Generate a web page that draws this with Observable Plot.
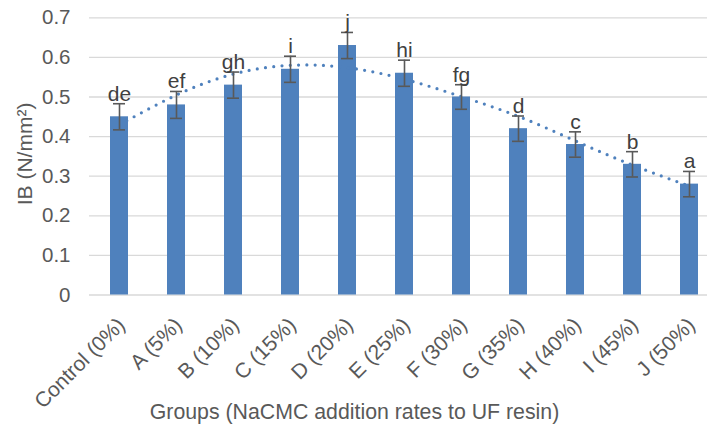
<!DOCTYPE html>
<html>
<head>
<meta charset="utf-8">
<script src="https://cdn.jsdelivr.net/npm/d3@7"></script>
<script src="https://cdn.jsdelivr.net/npm/@observablehq/plot@0.6"></script>
<style>
  html, body { margin: 0; padding: 0; background: #fff; }
  #chart svg { display: block; }
</style>
</head>
<body>
<div id="chart"></div>
<script>
// ---- data ----
const groups = ["Control (0%)", "A (5%)", "B (10%)", "C (15%)", "D (20%)", "E (25%)",
                "F (30%)", "G (35%)", "H (40%)", "I (45%)", "J (50%)"];
const ib = [0.45, 0.48, 0.53, 0.57, 0.63, 0.56, 0.50, 0.42, 0.38, 0.33, 0.28];
const sd = [0.033, 0.034, 0.033, 0.033, 0.033, 0.033, 0.031, 0.032, 0.032, 0.032, 0.032];
const letters = ["de", "ef", "gh", "i", "j", "hi", "fg", "d", "c", "b", "a"];
// polynomial trendline as read at each category centre
const trend = [0.43, 0.505, 0.558, 0.580, 0.574, 0.545, 0.501, 0.451, 0.389, 0.328, 0.275];
const yTicks = [0, 0.1, 0.2, 0.3, 0.4, 0.5, 0.6, 0.7];
const yTitle = "IB (N/mm²)";
const xTitle = "Groups (NaCMC addition rates to UF resin)";

const data = groups.map((g, i) => ({group: g, value: ib[i], err: sd[i], letter: letters[i], trend: trend[i]}));

const blue = "#4f81bd";
const grey = "#595959";
const font = "'Liberation Sans', Arial, sans-serif";

const chart = Plot.plot({
  width: 707,
  height: 424,
  marginLeft: 89,
  marginRight: 0,
  marginTop: 17.3,
  marginBottom: 129.5,
  style: {fontFamily: font, fontSize: "20px", color: grey, background: "#fff", overflow: "hidden"},
  x: {type: "band", domain: groups, range: [89, 718], paddingInner: 0.685, paddingOuter: 0.3425, axis: null},
  y: {domain: [0, 0.7], axis: null},
  marks: [
    Plot.ruleY(yTicks, {stroke: "#d9d9d9", strokeWidth: 1.3}),
    Plot.axisY(yTicks, {tickSize: 0, tickPadding: 19, label: null, tickFormat: d => String(+d.toFixed(1)), fontSize: 20.5, fill: grey}),
    Plot.barY(data, {x: "group", y: "value", fill: blue}),
    Plot.line(data, {x: "group", y: "trend", curve: "natural", stroke: blue, strokeWidth: 3.2,
                     strokeDasharray: "0 8.3", strokeLinecap: "round"}),
    Plot.ruleX(data, {x: "group", y1: d => d.value - d.err, y2: d => d.value + d.err, stroke: grey, strokeWidth: 1.6}),
    Plot.tickY(data, {x: "group", y: d => d.value + d.err, stroke: grey, strokeWidth: 1.6, insetLeft: 3, insetRight: 3}),
    Plot.tickY(data, {x: "group", y: d => d.value - d.err, stroke: grey, strokeWidth: 1.6, insetLeft: 3, insetRight: 3}),
    Plot.text(data, {x: "group", y: d => d.value + d.err, text: "letter", lineAnchor: "bottom", dy: -3,
                     fontSize: 21, fill: "#404040"}),
    Plot.text(groups, {x: d => d, frameAnchor: "bottom", rotate: -45, textAnchor: "end", lineAnchor: "middle",
                       dx: 2, dy: 26.5, fontSize: 21, fill: grey}),
    Plot.text([xTitle], {frameAnchor: "bottom", lineAnchor: "bottom", dx: -44, dy: 123.8, fontSize: 21.3, fill: grey}),
    Plot.text([yTitle], {frameAnchor: "left", rotate: -90, lineAnchor: "middle", textAnchor: "middle",
                         dx: -64.4, dy: -2.5, fontSize: 21, fill: grey})
  ]
});
document.getElementById("chart").append(chart);
</script>
</body>
</html>
